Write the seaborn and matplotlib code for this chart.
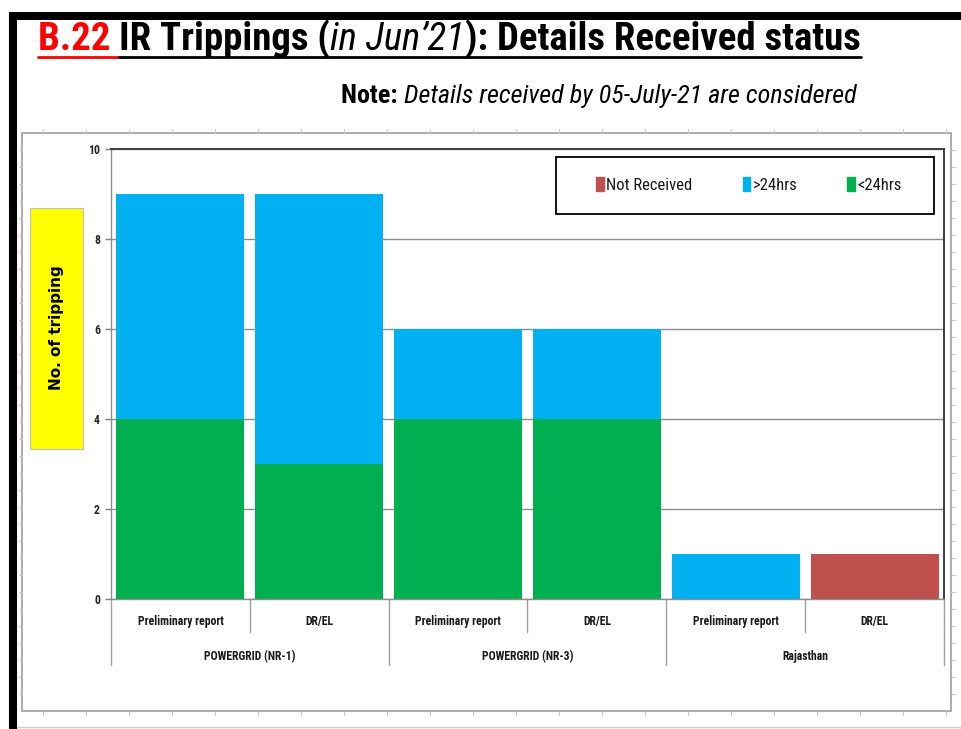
import matplotlib
matplotlib.use("Agg")
import matplotlib.pyplot as plt
import matplotlib.patches as mpatches
import matplotlib.transforms as mtransforms
from matplotlib import font_manager as fm
from matplotlib.lines import Line2D
import numpy as np
import pandas as pd
import seaborn as sns

# data
groups = ["POWERGRID (NR-1)", "POWERGRID (NR-3)", "Rajasthan"]
reports = ["Preliminary report", "DR/EL"]
not_received = [0, 0, 0, 0, 0, 1]
over_24 = [5, 6, 2, 2, 1, 0]
under_24 = [4, 3, 4, 4, 0, 0]
y_ticks = [0, 2, 4, 6, 8, 10]

GREEN = "#00B050"
BLUE = "#00B0F0"
RED = "#C0504D"

W, H = 962, 729


def pick(*names):
    for n in names:
        try:
            fm.findfont(fm.FontProperties(family=n), fallback_to_default=False)
            return n
        except ValueError:
            continue
    return "DejaVu Sans"


sns.set_theme(style="white")
NARROW = pick("Liberation Sans Narrow", "Roboto Condensed", "DejaVu Sans")
plt.rcParams["font.family"] = [NARROW, "DejaVu Sans"]


def px(x, y):
    return x / W, 1 - y / H


keys = [f"{g}|{r}" for g in groups for r in reports]
df = pd.DataFrame({
    "key": keys,
    "group": np.repeat(groups, len(reports)),
    "report": reports * len(groups),
    "under": under_24,
    "over": over_24,
    "nr": not_received,
})

fig = plt.figure(figsize=(W / 100, H / 100), dpi=100)
ax = fig.add_axes([111 / W, 130 / H, 833 / W, 450 / H])

bar_kw = dict(x="key", order=keys, width=0.922, linewidth=0, errorbar=None,
              saturation=1, ax=ax)
sns.barplot(data=df, y="under", color=GREEN, **bar_kw)
sns.barplot(data=df, y="over", color=BLUE, bottom=df["under"].to_numpy(), **bar_kw)
sns.barplot(data=df, y="nr", color=RED,
            bottom=(df["under"] + df["over"]).to_numpy(), **bar_kw)

ax.set_ylim(0, 10)
ax.set_xlim(-0.5, len(keys) - 0.5)
ax.set_yticks(y_ticks)
ax.set_yticklabels([str(v) for v in y_ticks], fontsize=8.5, fontweight="bold")
ax.set_xticks([])
ax.set_xlabel("")
ax.set_ylabel("")
ax.set_axisbelow(True)
ax.yaxis.grid(True, color="#8c8c8c", linewidth=1)
ax.tick_params(axis="y", direction="out", length=4, width=1, color="#808080",
               pad=4, left=True)
for side in ["top", "right"]:
    ax.spines[side].set_color("#404040")
    ax.spines[side].set_linewidth(1.4)
for side in ["left", "bottom"]:
    ax.spines[side].set_color("#8c8c8c")
    ax.spines[side].set_linewidth(1)

# two-level category axis
tr = mtransforms.blended_transform_factory(ax.transData, ax.transAxes)
for i, k in enumerate(keys):
    ax.text(i, -0.049, df["report"][i], transform=tr, ha="center", va="center",
            fontsize=8.5, fontweight="bold", color="#1a1a1a")
for gi, g in enumerate(groups):
    centre = gi * len(reports) + (len(reports) - 1) / 2
    ax.text(centre, -0.127, g, transform=tr, ha="center", va="center",
            fontsize=8.5, fontweight="bold", color="#1a1a1a")
for b in np.arange(-0.5, len(keys), 1.0):
    long_line = int(round(b + 0.5)) % len(reports) == 0
    ax.add_line(Line2D([b, b], [0, -0.147 if long_line else -0.073],
                       transform=tr, color="#a0a0a0", linewidth=1, clip_on=False))

# legend: black box plus centred entries
ax.add_patch(mpatches.Rectangle((0.534, 0.856), 0.454, 0.126, transform=ax.transAxes,
                                facecolor="white", edgecolor="black", linewidth=1.3,
                                zorder=4))
handles = [mpatches.Patch(color=RED, label="Not Received"),
           mpatches.Patch(color=BLUE, label=">24hrs"),
           mpatches.Patch(color=GREEN, label="<24hrs")]
leg = ax.legend(handles=handles, ncol=3, loc="center", bbox_to_anchor=(0.766, 0.92),
                frameon=False, fontsize=12, handlelength=0.45, handleheight=0.85,
                handletextpad=0.15, borderaxespad=0, borderpad=0, columnspacing=3.0)
leg.set_zorder(5)
for t in leg.get_texts():
    t.set_color("#1a1a1a")

# yellow y-axis label box
x0, y0 = px(30, 449)
x1, y1 = px(83, 208)
fig.add_artist(mpatches.Rectangle((x0, y0), x1 - x0, y1 - y0, transform=fig.transFigure,
                                  facecolor="#FFFF00", edgecolor="#bfbfbf", linewidth=0.8))
fig.text(*px(57, 328), "No. of tripping", rotation=90, ha="center", va="center",
         fontsize=11, fontweight="bold", family="DejaVu Sans", color="black")

# chart frame with sheet-grid ticks
fx0, fy0 = px(22, 711)
fx1, fy1 = px(951, 133)
fig.add_artist(mpatches.Rectangle((fx0, fy0), fx1 - fx0, fy1 - fy0, transform=fig.transFigure,
                                  facecolor="none", edgecolor="#a6a6a6", linewidth=1.3))
for xx in np.arange(43, 951, 43):
    for ya, yb in [(133, 129), (711, 715)]:
        fig.add_artist(Line2D(*zip(px(xx, ya), px(xx, yb)), transform=fig.transFigure,
                              color="#c8c8c8", linewidth=0.8))
for yy in np.arange(150, 711, 17):
    for xa, xb in [(22, 19), (951, 955)]:
        fig.add_artist(Line2D(*zip(px(xa, yy), px(xb, yy)), transform=fig.transFigure,
                              color="#c8c8c8", linewidth=0.8))

# slide borders
fig.add_artist(Line2D(*zip(px(9, 16), px(962, 16)), transform=fig.transFigure,
                      color="black", linewidth=5.8, solid_capstyle="butt"))
fig.add_artist(Line2D(*zip(px(13, 12), px(13, 729)), transform=fig.transFigure,
                      color="black", linewidth=5.8, solid_capstyle="butt"))
fig.add_artist(Line2D(*zip(px(17, 727), px(962, 727)), transform=fig.transFigure,
                      color="#d0d0d0", linewidth=1))


def text_runs(x_left, x_right, y_base, runs, size):
    r = fig.canvas.get_renderer()
    items = [fig.text(0, 0, s, fontsize=size, va="baseline", **kw) for s, kw in runs]
    widths = [t.get_window_extent(r).width for t in items]
    scale = (x_right - x_left) / sum(widths)
    for t in items:
        t.set_fontsize(size * scale)
    widths = [t.get_window_extent(r).width for t in items]
    cur = x_left
    spans = []
    for t, w in zip(items, widths):
        t.set_position(px(cur, y_base))
        spans.append((cur, cur + w))
        cur += w
    return spans


title_runs = [("B.22 ", dict(color="#FF0000", fontweight="bold")),
              ("IR Trippings (", dict(color="black", fontweight="bold")),
              ("in Jun\u201921", dict(color="black", style="italic")),
              ("): Details Received status", dict(color="black", fontweight="bold"))]
spans = text_runs(38, 858, 50, title_runs, 22)
fig.add_artist(Line2D(*zip(px(spans[0][0], 57), px(spans[0][1], 57)),
                      transform=fig.transFigure, color="#FF0000", linewidth=2))
fig.add_artist(Line2D(*zip(px(spans[1][0], 57), px(spans[-1][1], 57)),
                      transform=fig.transFigure, color="black", linewidth=2))

note_runs = [("Note: ", dict(color="black", fontweight="bold")),
             ("Details received by 05-July-21 are considered",
              dict(color="black", style="italic"))]
text_runs(341, 858, 103, note_runs, 14)

fig.savefig("out.png", dpi=100)
